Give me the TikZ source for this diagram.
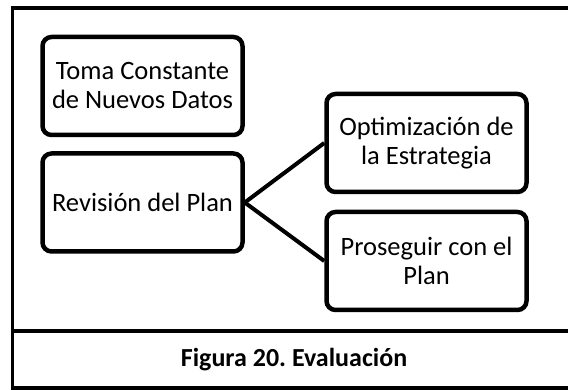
\documentclass[tikz,border=0pt]{standalone}
\usepackage{fontspec}
\setmainfont{Carlito}
\frenchspacing
\begin{document}
\begin{tikzpicture}[x=1pt,y=-1pt,
  box/.style={draw, rectangle, rounded corners=9pt, line width=4.5pt,
    minimum width=200pt, minimum height=98pt, align=center, inner sep=0pt,
    font=\fontsize{26.5}{29}\selectfont},
  frame/.style={line width=3.5pt},
  link/.style={line width=4pt}]
\useasboundingbox (0,0) rectangle (568,390);
% outer frame
\coordinate (tl) at (12.5,8);
\coordinate (bl) at (12.5,388);
\coordinate (tr) at (600,8);
\coordinate (br) at (600,388);
\coordinate (sl) at (12.5,331);
\coordinate (sr) at (600,331);
\draw[frame] (tr) -- (tl) -- (bl) -- (br);
\draw[frame] (sl) -- (sr);
% boxes
\node[box] (toma) at (142.5,86) {Toma Constante\\de Nuevos Datos};
\node[box] (rev) at (142.5,202.5) {Revisión del Plan};
\node[box] (opt) at (426.5,143) {Optimización de\\la Estrategia};
\node[box] (pro) at (426.5,261) {Proseguir con el\\Plan};
\draw[link] (rev.east) -- (opt.west);
\draw[link] (rev.east) -- (pro.west);
% caption
\node[font=\fontsize{26}{30}\selectfont\bfseries] (cap) at (294,360) {Figura 20. Evaluación};
\end{tikzpicture}
\end{document}
